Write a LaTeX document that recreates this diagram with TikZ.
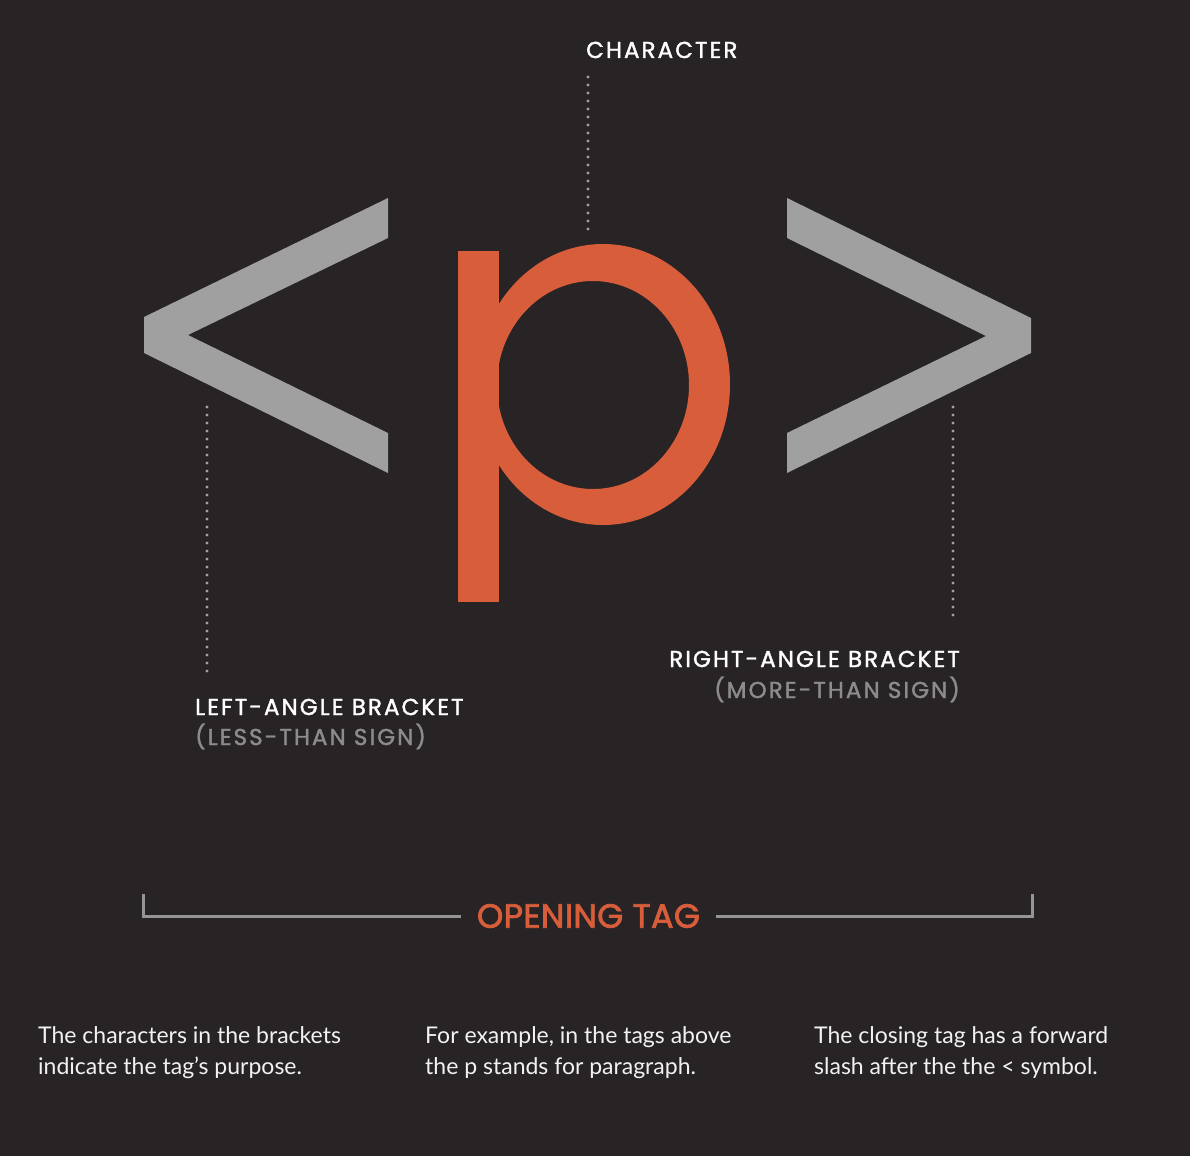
\documentclass[tikz,border=0pt]{standalone}
\usepackage{fontspec}
\setmainfont{Lato}
\newfontfamily\headfont[LetterSpace=9,FakeBold=1.6]{Poppins}
\newfontfamily\tagfont[LetterSpace=1,FakeBold=2.2]{Poppins}
\definecolor{bg}{HTML}{282325}
\definecolor{tagorange}{HTML}{D75D3B}
\definecolor{brgrey}{HTML}{A0A0A0}
\definecolor{dotgrey}{HTML}{A2A2A2}
\definecolor{linegrey}{HTML}{959595}
\definecolor{subgrey}{HTML}{8C8C8C}
\definecolor{bodywhite}{HTML}{F2F2F2}
\begin{document}
\begin{tikzpicture}[x=1pt,y=-1pt,
  txt/.style={inner sep=0pt},
  label/.style={txt,text=white,font=\headfont\fontsize{23}{26}\selectfont},
  sublabel/.style={txt,text=subgrey,font=\headfont\fontsize{23}{26}\selectfont},
  body/.style={txt,text=bodywhite,anchor=base west,font=\fontsize{23}{31}\selectfont},
  leader/.style={draw=dotgrey,line width=3.2pt,line cap=round,dash pattern=on 0pt off 8pt},
  tagline/.style={draw=linegrey,line width=3pt}]
\useasboundingbox (0,0) rectangle (1190,1156);
\fill[bg] (0,0) rectangle (1190,1156);
% left-angle bracket
\fill[brgrey] (388,198) -- (144,317) -- (144,353) -- (388,473) -- (388,433) -- (188,335) -- (388,238) -- cycle;
% right-angle bracket
\fill[brgrey] (787,198) -- (1031,318) -- (1031,353) -- (787,473) -- (787,433) -- (986,336) -- (787,238) -- cycle;
% the letter p
\fill[tagorange,even odd rule] (603,384.5) ellipse [x radius=127pt, y radius=140.5pt]
   (593,385) ellipse [x radius=96pt, y radius=104pt];
\fill[tagorange] (458,251) rectangle (499,602);
% labels
\node[label,anchor=base west] (char) at (586,58) {CHARACTER};
\node[label,anchor=base west] (lab) at (195,715) {LEFT-ANGLE BRACKET};
\node[sublabel,anchor=base west] (lsub) at (195,745) {(LESS-THAN SIGN)};
\node[label,anchor=base east] (rab) at (960,667) {RIGHT-ANGLE BRACKET};
\node[sublabel,anchor=base east] (rsub) at (960,698) {(MORE-THAN SIGN)};
% dotted leaders
\coordinate (c1) at (588,77);  \coordinate (c2) at (588,229);
\coordinate (l1) at (207,407); \coordinate (l2) at (207,673);
\coordinate (r1) at (953,407); \coordinate (r2) at (953,621);
\draw[leader] (c1) -- (c2);
\draw[leader] (l1) -- (l2);
\draw[leader] (r1) -- (r2);
% opening tag bracket
\node[txt,inner xsep=16pt,text=tagorange,font=\tagfont\fontsize{33.5}{36}\selectfont] (open) at (588.5,916) {OPENING TAG};
\coordinate (lt) at (143,894);
\coordinate (rt) at (1032,894);
\draw[tagline] (lt) |- (open.west);
\draw[tagline] (open.east) -| (rt);
% body text
\node[body] (b1a) at (38,1043) {The characters in the brackets};
\node[body] (b1b) at (38,1074) {indicate the tag's purpose.};
\node[body] (b2a) at (425,1043) {For example, in the tags above};
\node[body] (b2b) at (425,1074) {the p stands for paragraph.};
\node[body] (b3a) at (814,1043) {The closing tag has a forward};
\node[body] (b3b) at (814,1074) {slash after the the < symbol.};
\end{tikzpicture}
\end{document}
